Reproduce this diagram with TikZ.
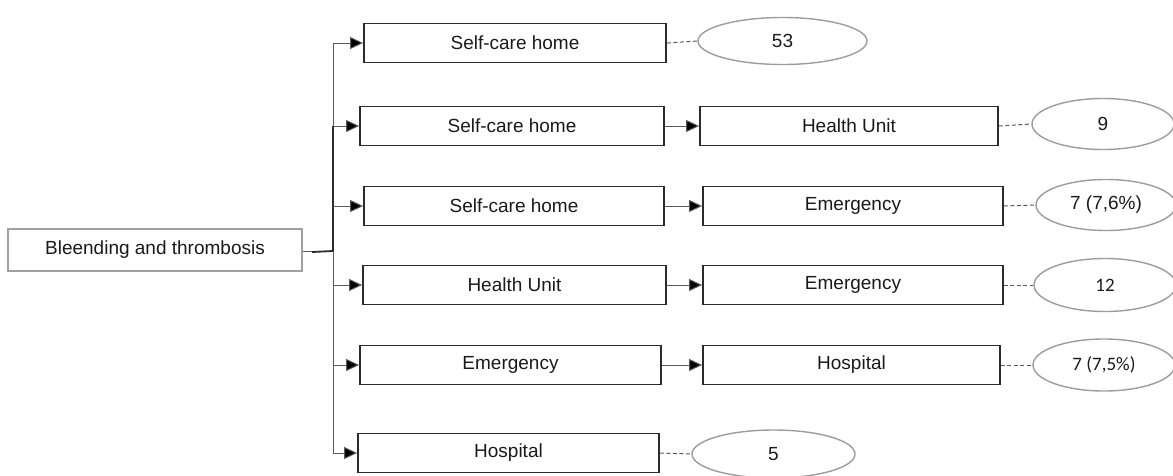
\documentclass[tikz,border=0pt]{standalone}
\usepackage{fontspec}
\setmainfont{Liberation Sans}
\newfontfamily\calib{Carlito}
\usetikzlibrary{arrows.meta,shapes.geometric}
\definecolor{boxc}{HTML}{2B2B2B}
\definecolor{mainc}{HTML}{A0A0A0}
\definecolor{ovalc}{HTML}{9C9C9C}
\definecolor{linec}{HTML}{5A5A5A}
\definecolor{txtc}{HTML}{1A1A1A}
\tikzset{
  box/.style={draw=boxc, line width=1.8pt, minimum height=39pt, inner sep=0pt,
    text=txtc, font=\fontsize{19}{21}\selectfont},
  mainbox/.style={box, draw=mainc, line width=1.5pt, minimum height=42pt},
  oval/.style={ellipse, draw=ovalc, line width=1.4pt, inner sep=0pt,
    text=txtc, font=\fontsize{19}{21}\selectfont},
  cal/.style={font=\calib\fontsize{19}{21}\selectfont},
  arr/.style={draw=linec, line width=1pt, -{Triangle[length=13pt,width=12pt,fill=black]}},
  trunkln/.style={draw=linec, line width=1pt},
  trunkdk/.style={draw=boxc, line width=1.8pt},
  dashln/.style={draw=linec, line width=1pt, dash pattern=on 4pt off 2.5pt},
}
\begin{document}
\begin{tikzpicture}[x=1pt,y=-1pt]
\useasboundingbox (0,0) rectangle (1173,475);
\node[mainbox, minimum width=294pt] (m) at (155,250) {Bleending and thrombosis};
% first column
\node[box, minimum width=302pt] (a1) at (515,43) {Self-care home};
\node[box, minimum width=304pt] (a2) at (512,126) {Self-care home};
\node[box, minimum width=300pt] (a3) at (514,206) {Self-care home};
\node[box, minimum width=303pt] (a4) at (514.5,285) {Health Unit};
\node[box, minimum width=301pt] (a5) at (510.5,365) {Emergency};
\node[box, minimum width=301pt] (a6) at (508.5,453) {Hospital};
% second column
\node[box, minimum width=298pt] (b2) at (849,126) {Health Unit};
\node[box, minimum width=300pt] (b3) at (853,206) {Emergency};
\node[box, minimum width=300pt] (b4) at (853,285) {Emergency};
\node[box, minimum width=297pt] (b5) at (851.5,365) {Hospital};
% ovals
\node[oval, minimum width=169pt, minimum height=47pt] (e1) at (782.5,41) {53};
\node[oval, minimum width=142pt, minimum height=51pt] (e2) at (1103,124) {9};
\node[oval, minimum width=140pt, minimum height=51pt] (e3) at (1106,205) {7 (7,6\%)};
\node[oval, cal, minimum width=142pt, minimum height=53pt] (e4) at (1105,285) {12};
\node[oval, cal, minimum width=142pt, minimum height=52pt] (e5) at (1104,365) {7 (7,5\%)};
\node[oval, minimum width=163pt, minimum height=48pt] (e6) at (773.5,454) {5};
% trunk
\coordinate (t) at (333,0);
\coordinate (j) at (333,251);
\draw[trunkln] (m.east |- j) -- (j);
\draw[trunkdk] (312,252) -- (j);
\draw[trunkln] (a1.west -| t) -- (a6.west -| t);
\draw[trunkdk] (a2.west -| t) -- (j);
\foreach \i in {1,...,6}{
  \draw[arr] (a\i.west -| t) -- (a\i.west);
}
% second-step arrows
\foreach \i in {2,...,5}{
  \draw[arr] (a\i.east) -- (b\i.west);
}
% dashed links
\draw[dashln] (a1.east) -- (e1.west);
\draw[dashln] (b2.east) -- (e2.west);
\draw[dashln] (b3.east) -- (e3.west);
\draw[dashln] (b4.east) -- (e4.west);
\draw[dashln] (b5.east) -- (e5.west);
\draw[dashln] (a6.east) -- (e6.west);
\end{tikzpicture}
\end{document}
